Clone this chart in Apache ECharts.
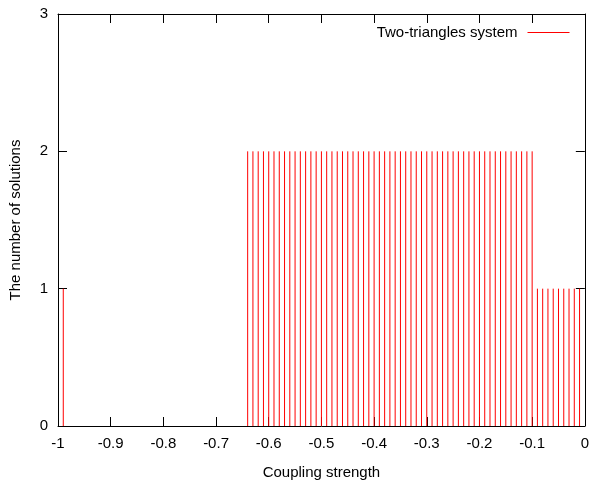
<!DOCTYPE html>
<html>
<head>
<meta charset="utf-8">
<script src="https://cdn.jsdelivr.net/npm/echarts@6/dist/echarts.min.js"></script>
<style>
  html, body { margin: 0; padding: 0; background: #fff; }
  #chart_box { width: 592px; height: 485px; }
</style>
</head>
<body>
<div id="chart_box"></div>
<script>
// 数据：耦合强度 与 解的个数
var couplingX = [-0.99,
  -0.64, -0.63, -0.62, -0.61, -0.60, -0.59, -0.58, -0.57, -0.56, -0.55,
  -0.54, -0.53, -0.52, -0.51, -0.50, -0.49, -0.48, -0.47, -0.46, -0.45,
  -0.44, -0.43, -0.42, -0.41, -0.40, -0.39, -0.38, -0.37, -0.36, -0.35,
  -0.34, -0.33, -0.32, -0.31, -0.30, -0.29, -0.28, -0.27, -0.26, -0.25,
  -0.24, -0.23, -0.22, -0.21, -0.20, -0.19, -0.18, -0.17, -0.16, -0.15,
  -0.14, -0.13, -0.12, -0.11, -0.10,
  -0.09, -0.08, -0.07, -0.06, -0.05, -0.04, -0.03, -0.02, -0.01];
var solutions = [1,
  2, 2, 2, 2, 2, 2, 2, 2, 2, 2,
  2, 2, 2, 2, 2, 2, 2, 2, 2, 2,
  2, 2, 2, 2, 2, 2, 2, 2, 2, 2,
  2, 2, 2, 2, 2, 2, 2, 2, 2, 2,
  2, 2, 2, 2, 2, 2, 2, 2, 2, 2,
  2, 2, 2, 2, 2,
  1, 1, 1, 1, 1, 1, 1, 1, 1];
var xTicks = [-1, -0.9, -0.8, -0.7, -0.6, -0.5, -0.4, -0.3, -0.2, -0.1, 0];
var yTicks = [0, 1, 2, 3];

var myChart1 = echarts.init(document.getElementById('chart_box'));

// impulses 风格：每个点画一条从 0 到 y 的竖线，中间用 '-' 断开
var impulses = [];
couplingX.forEach(function (x, i) {
  impulses.push([x, 0], [x, solutions[i]], '-');
});

var font = 'Liberation Sans, Arial, sans-serif';
var fs = 15;
var lineStyle = { color: '#000', width: 1 };

function xAxisCfg(pos, showLabel) {
  return {
    type: 'value',
    position: pos,
    min: xTicks[0],
    max: xTicks[xTicks.length - 1],
    interval: 0.1,
    axisLine: { show: true, onZero: false, lineStyle: lineStyle },
    axisTick: { show: true, inside: true, length: 9, lineStyle: lineStyle },
    splitLine: { show: false },
    axisLabel: {
      show: showLabel, color: '#000', fontFamily: font, fontSize: fs, margin: 10,
      formatter: function (v) { return String(Math.round(v * 10) / 10); }
    },
    name: showLabel ? 'Coupling strength' : '',
    nameLocation: 'middle',
    nameGap: 39,
    nameTextStyle: { color: '#000', fontFamily: font, fontSize: fs }
  };
}

function yAxisCfg(pos, showLabel) {
  return {
    type: 'value',
    position: pos,
    min: yTicks[0],
    max: yTicks[yTicks.length - 1],
    interval: 1,
    axisLine: { show: true, onZero: false, lineStyle: lineStyle },
    axisTick: { show: true, inside: true, length: 9, lineStyle: lineStyle },
    splitLine: { show: false },
    axisLabel: { show: showLabel, color: '#000', fontFamily: font, fontSize: fs, margin: 10 },
    name: showLabel ? 'The number of solutions' : '',
    nameLocation: 'middle',
    nameGap: 35,
    nameTextStyle: { color: '#000', fontFamily: font, fontSize: fs }
  };
}

var option = {
  animation: false,
  backgroundColor: '#fff',
  color: ['#ff0000'],
  grid: { left: 58, top: 14, width: 529, height: 414 },
  legend: {
    right: 17,
    top: 20,
    align: 'right',
    itemWidth: 42,
    itemHeight: 14,
    itemStyle: { opacity: 0 },
    lineStyle: { color: '#ff0000', width: 1 },
    textStyle: { color: '#000', fontFamily: font, fontSize: fs, padding: [0, 5, 0, 0] },
    data: ['Two-triangles system']
  },
  xAxis: [xAxisCfg('bottom', true), xAxisCfg('top', false)],
  yAxis: [yAxisCfg('left', true), yAxisCfg('right', false)],
  series: [{
    name: 'Two-triangles system',
    type: 'line',
    data: impulses,
    connectNulls: false,
    showSymbol: false,
    symbol: 'none',
    lineStyle: { color: '#ff0000', width: 1 },
    itemStyle: { color: '#ff0000' }
  }]
};

myChart1.setOption(option);
</script>
</body>
</html>
